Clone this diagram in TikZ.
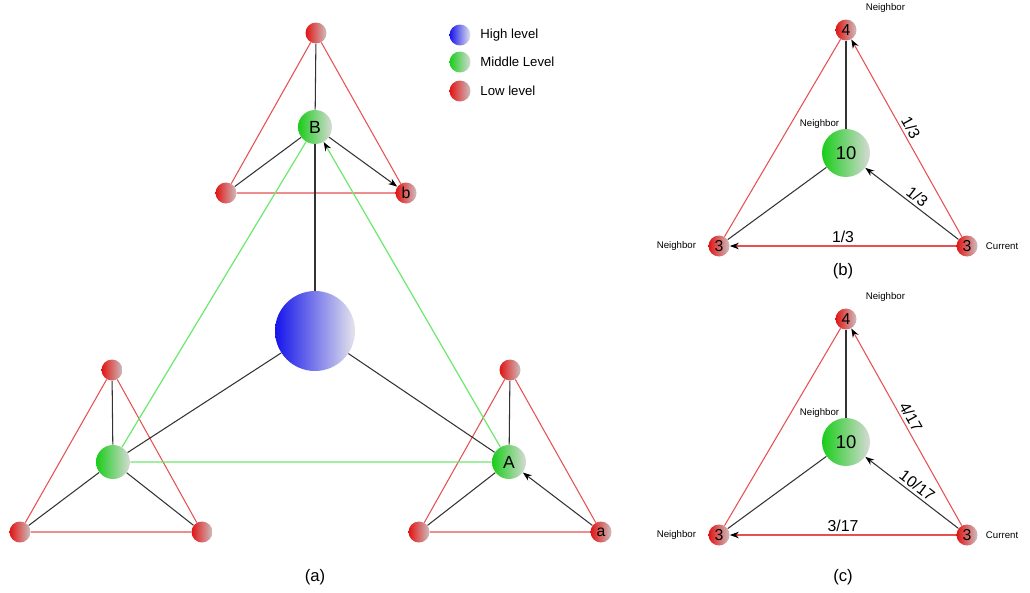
\documentclass[tikz,border=0pt]{standalone}
\usepackage{fontspec}
\setmainfont{Liberation Sans}
\usetikzlibrary{positioning, arrows.meta, calc}
\definecolor{hiL}{RGB}{20,20,235}
\definecolor{hiR}{RGB}{228,228,236}
\definecolor{midL}{RGB}{25,205,25}
\definecolor{midR}{RGB}{215,218,215}
\definecolor{lowL}{RGB}{225,20,20}
\definecolor{lowR}{RGB}{205,190,190}
\definecolor{edgered}{RGB}{230,80,80}
\definecolor{edgegreen}{RGB}{110,232,110}
\tikzset{
  hiball/.style  = {circle, inner sep=0pt, minimum size=1.6cm,
                    left color=hiL, right color=hiR},
  midball/.style = {circle, inner sep=0pt, minimum size=0.68cm,
                    left color=midL, right color=midR, font=\fontsize{10}{10}\selectfont},
  bigmid/.style  = {midball, minimum size=0.96cm, font=\fontsize{10.5}{11}\selectfont},
  lowball/.style = {circle, inner sep=0pt, minimum size=0.42cm,
                    left color=lowL, right color=lowR, font=\fontsize{9}{9}\selectfont},
  redge/.style   = {draw=edgered, line width=0.6pt},
  gedge/.style   = {draw=edgegreen, line width=0.7pt},
  kedge/.style   = {draw=black!80, line width=0.6pt},
  ar/.style      = {-{Stealth[length=1.8mm, width=1.3mm, color=black]}},
  keytxt/.style  = {font=\fontsize{7.5}{8}\selectfont, inner sep=1pt},
  nbr/.style     = {font=\fontsize{5.5}{6}\selectfont, inner sep=1pt},
  wlbl/.style    = {font=\fontsize{9}{9}\selectfont, inner sep=1.5pt},
  panelcap/.style = {font=\fontsize{9.5}{10}\selectfont},
}

\begin{document}
\begin{tikzpicture}[x=0.02cm, y=-0.02cm]
  \useasboundingbox (0,0) rectangle (1030,592);

  % (a) three-level hierarchy
  \node[hiball] (hub) at (315,331) {};
  \node[midball] (B) at (315,127) {B};
  \node[lowball] (B1) at (316,33) {};
  \node[lowball] (B2) at (226,193) {};
  \node[lowball] (B3) at (406,193) {b};
  \node[midball] (G) at (113,462) {};
  \node[lowball] (G1) at (112,370) {};
  \node[lowball] (G2) at (20,532) {};
  \node[lowball] (G3) at (202,532) {};
  \node[midball] (A) at (509,462) {A};
  \node[lowball] (A1) at (510,370) {};
  \node[lowball] (A2) at (419,532) {};
  \node[lowball] (A3) at (601,532) {a};

  \foreach \g in {B, G, A}{
    \draw[redge] (\g1) -- (\g2) -- (\g3) -- (\g1);
    \draw[kedge] (\g) -- (\g1);
    \draw[kedge] (\g) -- (\g2);
    \draw[kedge] (hub) -- (\g);
  }
  \draw[kedge] (G) -- (G3);
  \draw[kedge, ar] (B) -- (B3);
  \draw[kedge, ar] (A3) -- (A);
  \draw[gedge] (B) -- (G) -- (A);
  \draw[gedge, ar] (A) -- (B);
  \node[panelcap] (capa) at (315,577) {(a)};

  % legend
  \node[lowball, left color=hiL, right color=hiR] (k1) at (460,35) {};
  \node[lowball, left color=midL, right color=midR] (k2) at (460,62) {};
  \node[lowball] (k3) at (460,91) {};
  \node[keytxt, right=1.5mm of k1] (k1t) {High level};
  \node[keytxt, right=1.5mm of k2] (k2t) {Middle Level};
  \node[keytxt, right=1.5mm of k3] (k3t) {Low level};

  % (b) and (c) weights sent by the current node
  \foreach \p/\dy/\wt/\wm/\wl in {b/0/{1/3}/{1/3}/{1/3}, c/289/{4/17}/{10/17}/{3/17}}{
    \node[lowball] (\p-top) at (846,30+\dy) {4};
    \node[bigmid] (\p-mid) at (846,153+\dy) {10};
    \node[lowball] (\p-left) at (719,246+\dy) {3};
    \node[lowball] (\p-cur) at (967,246+\dy) {3};
    \node[nbr, above right=1.5mm and 2mm of \p-top] (\p-n1) {Neighbor};
    \node[nbr, above left=1mm and -2.5mm of \p-mid] (\p-n2) {Neighbor};
    \node[nbr, left=2mm of \p-left] (\p-n3) {Neighbor};
    \node[nbr, right=1.2mm of \p-cur] (\p-n4) {Current};
    \draw[redge] (\p-top) -- (\p-left);
    \draw[kedge] (\p-top) -- (\p-mid);
    \draw[kedge] (\p-mid) -- (\p-left);
    \draw[redge, ar] (\p-cur) -- node[wlbl, sloped, above, pos=0.53] (\p-w1) {\wt} (\p-top);
    \draw[kedge, ar] (\p-cur) -- node[wlbl, sloped, above] (\p-w2) {\wm} (\p-mid);
    \draw[redge, ar] (\p-cur) -- node[wlbl, above] (\p-w3) {\wl} (\p-left);
  }
  \node[panelcap] (capb) at (843,271) {(b)};
  \node[panelcap] (capc) at (843,577) {(c)};
\end{tikzpicture}
\end{document}
